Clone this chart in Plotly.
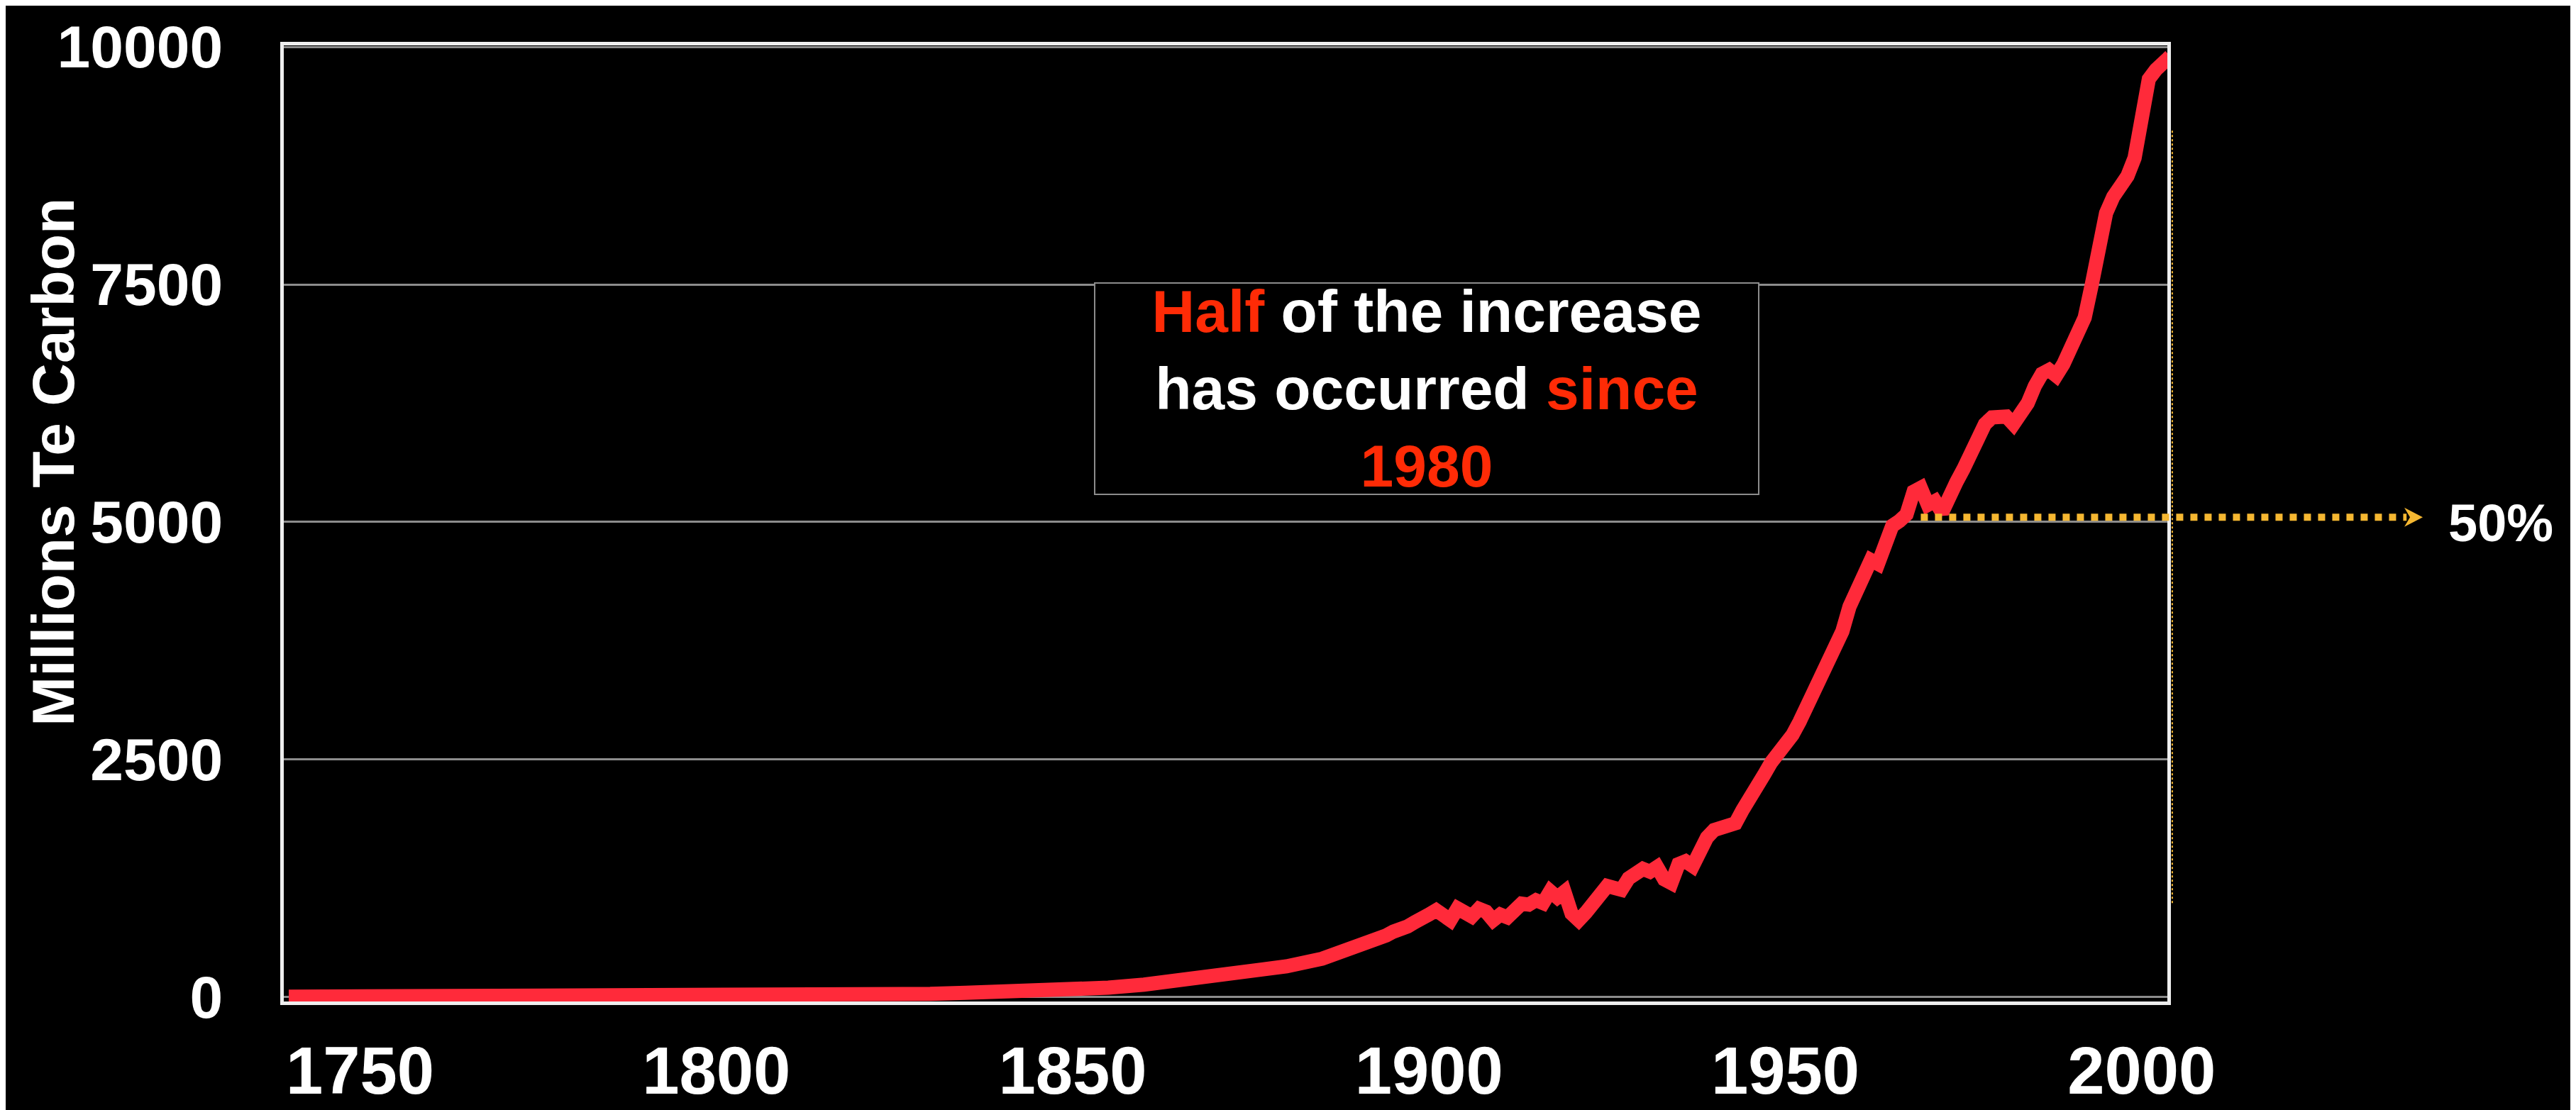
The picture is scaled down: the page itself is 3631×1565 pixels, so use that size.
import plotly.graph_objects as go

# ~~~ data ~~~
years = [1740, 1750, 1760, 1770, 1780, 1790, 1800, 1810, 1815, 1820,
         1825, 1830, 1835, 1840, 1845, 1850, 1855, 1860, 1865, 1870,
         1875, 1880, 1885] + list(range(1886, 2005))

emissions = [5, 5, 6, 7, 8, 10, 13, 17, 20, 24,
             27, 35, 46, 55, 65, 80, 100, 132, 180, 222,
             270, 325, 405,
             # 1886 - 1895
             430, 450, 470, 510, 545, 560, 600, 590, 650, 690,
             # 1896 - 1905
             710, 745, 790, 850, 870, 915, 860, 810, 935, 900,
             # 1906 - 1915
             850, 930, 900, 810, 870, 840, 940, 985, 975, 1020,
             # 1916 - 1925
             990, 1115, 1050, 1110, 880, 810, 890, 970, 1070, 1170,
             # 1926 - 1935
             1150, 1130, 1250, 1310, 1350, 1320, 1370, 1240, 1200, 1400,
             # 1936 - 1945
             1430, 1380, 1560, 1680, 1760, 1790, 1800, 1830, 1970, 2120,
             # 1946 - 1955
             2220, 2340, 2470, 2560, 2680, 2760, 2900, 3050, 3200, 3370,
             # 1956 - 1965
             3530, 3680, 3850, 4110, 4300, 4470, 4600, 4560, 4790, 4960,
             # 1966 - 1975
             5010, 5080, 5320, 5360, 5180, 5220, 5100, 5300, 5420, 5560,
             # 1976 - 1985
             5740, 5920, 6030, 6100, 6105, 6110, 6030, 6120, 6250, 6430,
             # 1986 - 1995
             6560, 6600, 6540, 6660, 6830, 6950, 7150, 7500, 7880, 8250,
             # 1996 - 2004
             8420, 8510, 8640, 8830, 9350, 9660, 9760, 9830, 9900]

x_ticks = [1750, 1800, 1850, 1900, 1950, 2000]
y_ticks = [0, 2500, 5000, 7500, 10000]

half_level = 5050          # the "50%" level
half_year = 1969           # where the dotted arrow starts
bracket_low, bracket_high = 990, 9120

x_range = [1739.3, 2003.6]
y_range = [-45, 10015]

LINE_RED = "#FF2A3A"
TEXT_RED = "#FF2B06"
ARROW = "#F5B731"
FONT = "Liberation Sans, Arial, sans-serif"

fig = go.Figure()
fig.add_trace(go.Scatter(x=years, y=emissions, mode="lines",
                         line={"color": LINE_RED, "width": 20},
                         showlegend=False, hoverinfo="skip"))

# dotted arrow out to the "50%" label
x0_paper = (half_year - x_range[0]) / (x_range[1] - x_range[0])
fig.add_shape(type="line", xref="paper", yref="y",
              x0=x0_paper, x1=1.127, y0=half_level, y1=half_level,
              line={"color": ARROW, "width": 10, "dash": "dot"})
fig.add_shape(type="path", xref="paper", yref="y",
              xsizemode="pixel", ysizemode="pixel",
              xanchor=1.1356, yanchor=half_level,
              path="M0,0 L-26,13.5 L-18,0 L-26,-13.5 Z",
              fillcolor=ARROW, line={"width": 0})
# thin dotted bracket right of the frame
fig.add_shape(type="line", xref="paper", yref="y",
              x0=1.0026, x1=1.0026, y0=bracket_low, y1=bracket_high,
              line={"color": ARROW, "width": 2, "dash": "dot"})

fig.add_annotation(xref="paper", yref="y", x=1.177, y=half_level, yshift=-8,
                   xanchor="center", yanchor="middle",
                   text="50%", showarrow=False,
                   font={"family": FONT, "size": 74, "color": "white", "weight": "bold"})

fig.add_annotation(x=1899.65, y=6403, xref="x", yref="y",
                   xanchor="center", yanchor="middle",
                   text=("<span style='color:%s'>Half</span> of the increase<br>"
                         "has occurred <span style='color:%s'>since</span><br>"
                         "<span style='color:%s'>1980</span>") % (TEXT_RED, TEXT_RED, TEXT_RED),
                   showarrow=False, align="center",
                   width=934, height=296, borderpad=0,
                   bgcolor="black", bordercolor="#8C8C8C", borderwidth=2,
                   font={"family": FONT, "size": 84, "color": "white", "weight": "bold"})

fig.add_annotation(xref="paper", yref="paper", x=-0.1225, y=0.5645,
                   xanchor="center", yanchor="middle",
                   text="Millions Te Carbon", textangle=-90, showarrow=False,
                   font={"family": FONT, "size": 84, "color": "white", "weight": "bold"})

fig.update_layout(
    width=3631, height=1565,
    margin={"l": 392, "r": 584, "t": 56, "b": 161, "autoexpand": False},
    paper_bgcolor="black", plot_bgcolor="black",
    xaxis={"range": x_range, "tickvals": x_ticks, "showgrid": False, "zeroline": False,
           "showline": True, "mirror": True, "linecolor": "#EEEEEE", "linewidth": 5,
           "ticks": "", "ticklabelstandoff": 12, "automargin": False,
           "tickfont": {"family": FONT, "size": 94, "color": "white", "weight": "bold"}},
    yaxis={"range": y_range, "tickvals": y_ticks, "tickformat": "d", "showgrid": True,
           "gridcolor": "#8C8C8C", "gridwidth": 3, "zeroline": False,
           "showline": True, "mirror": True, "linecolor": "#EEEEEE", "linewidth": 5,
           "ticks": "", "ticklabelstandoff": 64, "automargin": False,
           "tickfont": {"family": FONT, "size": 84, "color": "white", "weight": "bold"}},
)

fig.write_html("out.html")
